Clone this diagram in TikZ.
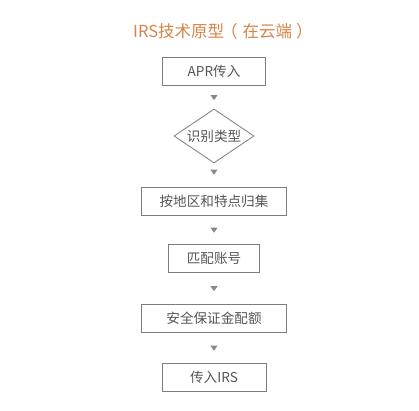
\documentclass[tikz,border=0pt]{standalone}
\usepackage{fontspec}
\setmainfont{Noto Sans CJK SC}
\usetikzlibrary{shapes.geometric}
\definecolor{titleorange}{RGB}{214,132,72}
\definecolor{boxgray}{RGB}{125,125,125}
\definecolor{textgray}{RGB}{85,85,85}
\definecolor{tipgray}{RGB}{135,135,135}
\begin{document}
\begin{tikzpicture}[x=1pt,y=-1pt,
    stepbox/.style={draw=boxgray,line width=0.8pt,minimum height=28pt,inner sep=0pt,
      text=textgray,font=\fontsize{13.6}{15}\selectfont},
    choice/.style={diamond,aspect=1.5,draw=boxgray,line width=0.8pt,minimum width=80pt,minimum height=54pt,
      inner sep=0pt,text=textgray,font=\fontsize{13.6}{15}\selectfont},
    tip/.style={isosceles triangle,isosceles triangle apex angle=70,shape border rotate=-90,
      fill=tipgray,inner sep=0pt,minimum width=7pt,minimum height=4.5pt}]
                        \useasboundingbox (0,0) rectangle (419,410);
                        % title
                        \node[text=titleorange,font=\fontsize{16.5}{18}\selectfont,anchor=west,inner sep=0pt] (title) at (133,31) {IRS技术原型\hspace{-3pt}（\hspace{5pt}在云端\hspace{4pt}）};
                        % steps
                        \node[stepbox,minimum width=103pt] (apr) at (214,71) {APR传入};
                        \node[choice] (kind) at (214,136) {识别类型};
                        \node[stepbox,minimum width=145pt] (group) at (214,201) {按地区和特点归集};
                        \node[stepbox,minimum width=91pt] (match) at (214,258) {匹配账号};
                        \node[stepbox,minimum width=145pt] (quota) at (214,318) {安全保证金配额};
                        \node[stepbox,minimum width=104pt] (irs) at (214,377) {传入IRS};
                        % arrow tips between the steps
                        \path (apr) -- node[tip] (t1) {} (kind);
                        \path (kind) -- node[tip,pos=0.35] (t2) {} (group);
                        \path (group) -- node[tip] (t3) {} (match);
                        \path (match) -- node[tip] (t4) {} (quota);
                        \path (quota) -- node[tip] (t5) {} (irs);
                    \end{tikzpicture}
\end{document}
